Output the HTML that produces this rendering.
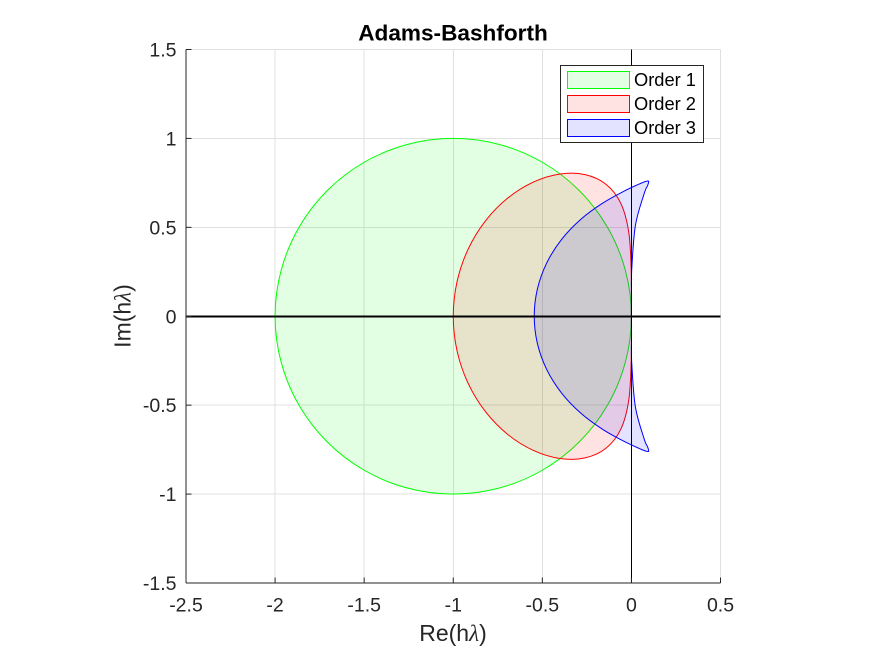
<!DOCTYPE html>
<html lang="en">
<head>
<meta charset="utf-8">
<title>Adams-Bashforth</title>
<style>
html,body{margin:0;padding:0;background:#fff;}
svg{display:block;font-family:"Liberation Sans",sans-serif;}
</style>
</head>
<body>
<svg id="chart" width="875" height="656" viewBox="0 0 875 656" xmlns="http://www.w3.org/2000/svg">
<rect width="875" height="656" fill="#ffffff"/>
<g id="grid" shape-rendering="crispEdges"></g>
<g id="regions"></g>
<g id="refs" shape-rendering="crispEdges"></g>
<g id="axes"></g>
<text x="453" y="40.5" text-anchor="middle" font-size="22.6" font-weight="bold" fill="#000">Adams-Bashforth</text>
<text x="453" y="641" text-anchor="middle" font-size="23" fill="#262626">Re(h<tspan font-family="'Liberation Serif',serif" font-style="italic">λ</tspan>)</text>
<text transform="translate(130.5,316) rotate(-90)" text-anchor="middle" font-size="23" fill="#262626">Im(h<tspan font-family="'Liberation Serif',serif" font-style="italic">λ</tspan>)</text>
<g>
  <rect x="560.5" y="65.5" width="143" height="77" fill="#ffffff" stroke="#262626" stroke-width="1"/>
  <g>
    <rect x="567.5" y="71.5" width="62" height="17" fill="#e3ffe3" stroke="#00ff00" stroke-width="1"/>
    <text x="634" y="86" font-size="18.3" fill="#000">Order 1</text>
  </g>
  <g>
    <rect x="567.5" y="95.5" width="62" height="17" fill="#ffe3e3" stroke="#ff0000" stroke-width="1"/>
    <text x="634" y="110" font-size="18.3" fill="#000">Order 2</text>
  </g>
  <g>
    <rect x="567.5" y="119.5" width="62" height="17" fill="#e3e3ff" stroke="#0000ff" stroke-width="1"/>
    <text x="634" y="134" font-size="18.3" fill="#000">Order 3</text>
  </g>
</g>
</svg>
<script>
const xTicks = [-2.5, -2, -1.5, -1, -0.5, 0, 0.5];
const xTickLabels = ['-2.5', '-2', '-1.5', '-1', '-0.5', '0', '0.5'];
const yTicks = [-1.5, -1, -0.5, 0, 0.5, 1, 1.5];
const yTickLabels = ['-1.5', '-1', '-0.5', '0', '0.5', '1', '1.5'];

const order1Re = [0, -0.0341, -0.134, -0.2929, -0.5, -0.7412, -1, -1.2588, -1.5, -1.7071, -1.866, -1.9659, -2, -1.9659, -1.866, -1.7071, -1.5, -1.2588, -1, -0.7412, -0.5, -0.2929, -0.134, -0.0341];
const order1Im = [0, 0.2588, 0.5, 0.7071, 0.866, 0.9659, 1, 0.9659, 0.866, 0.7071, 0.5, 0.2588, 0, -0.2588, -0.5, -0.7071, -0.866, -0.9659, -1, -0.9659, -0.866, -0.7071, -0.5, -0.2588];

const order2Re = [0, -0.0011, -0.0149, -0.0596, -0.1429, -0.2601, -0.4, -0.5487, -0.6923, -0.8184, -0.9166, -0.9787, -1, -0.9787, -0.9166, -0.8184, -0.6923, -0.5487, -0.4, -0.2601, -0.1429, -0.0596, -0.0149, -0.0011];
const order2Im = [0, 0.2546, 0.4721, 0.6352, 0.7423, 0.7964, 0.8, 0.7554, 0.6662, 0.5376, 0.3772, 0.1944, 0, -0.1944, -0.3772, -0.5376, -0.6662, -0.7554, -0.8, -0.7964, -0.7423, -0.6352, -0.4721, -0.2546];

const order3Re = [0, 0.0002, 0.0017, 0.0221, 0.0709, 0.0912, 0.0972, 0.0945, 0.0849, 0.0553, -0.0414, -0.1619, -0.2835, -0.391, -0.4746, -0.5274, -0.5455, -0.5274, -0.4746, -0.391, -0.2835, -0.1619, -0.0414, 0.0553, 0.0849, 0.0945, 0.0972, 0.0912, 0.0709, 0.0221, 0.0017, 0.0002];
const order3Im = [0, 0.1309, 0.2613, 0.5083, 0.6878, 0.7358, 0.7573, 0.7601, 0.7595, 0.7485, 0.7034, 0.6356, 0.5455, 0.4332, 0.3012, 0.1545, 0, -0.1545, -0.3012, -0.4332, -0.5455, -0.6356, -0.7034, -0.7485, -0.7595, -0.7601, -0.7573, -0.7358, -0.6878, -0.5083, -0.2613, -0.1309];

const plotLeft = 186, plotRight = 720.5, plotTop = 49.5, plotBottom = 583;
const xMin = -2.5, xMax = 0.5, yMin = -1.5, yMax = 1.5;
const NS = 'http://www.w3.org/2000/svg';

function xScale(v) { return plotLeft + (v - xMin) / (xMax - xMin) * (plotRight - plotLeft); }
function yScale(v) { return plotBottom - (v - yMin) / (yMax - yMin) * (plotBottom - plotTop); }

function make(parent, tag, attrs) {
  const el = document.createElementNS(NS, tag);
  for (const k in attrs) el.setAttribute(k, attrs[k]);
  parent.appendChild(el);
  return el;
}

function closedCurve(re, im) {
  const n = re.length;
  const px = re.map(xScale);
  const py = im.map(yScale);
  let d = 'M' + px[0].toFixed(2) + ' ' + py[0].toFixed(2);
  for (let i = 0; i < n; i++) {
    const a = (i - 1 + n) % n, b = i, c = (i + 1) % n, e = (i + 2) % n;
    const c1x = px[b] + (px[c] - px[a]) / 6, c1y = py[b] + (py[c] - py[a]) / 6;
    const c2x = px[c] - (px[e] - px[b]) / 6, c2y = py[c] - (py[e] - py[b]) / 6;
    d += 'C' + c1x.toFixed(2) + ' ' + c1y.toFixed(2) + ' ' + c2x.toFixed(2) + ' ' + c2y.toFixed(2) + ' ' + px[c].toFixed(2) + ' ' + py[c].toFixed(2);
  }
  return d + 'Z';
}

const gridG = document.getElementById('grid');
const axesG = document.getElementById('axes');
const regionsG = document.getElementById('regions');
const refsG = document.getElementById('refs');

xTicks.forEach(function (t, i) {
  const x = xScale(t);
  const g = make(gridG, 'line', { x1: x, x2: x, y1: plotTop, y2: plotBottom, stroke: '#e0e0e0', 'stroke-width': 1 });
  
  
  const tick = make(axesG, 'line', { x1: x, x2: x, y1: plotBottom, y2: plotBottom - 5.5, stroke: '#262626', 'stroke-width': 1 });
  
  
  const label = make(axesG, 'text', { x: x, y: 611.5, 'text-anchor': 'middle', 'font-size': 19.5, fill: '#262626' });
  
  
  label.textContent = xTickLabels[i];
});

yTicks.forEach(function (t, i) {
  const y = yScale(t);
  const g = make(gridG, 'line', { x1: plotLeft, x2: plotRight, y1: y, y2: y, stroke: '#e0e0e0', 'stroke-width': 1 });
  
  
  const tick = make(axesG, 'line', { x1: plotLeft, x2: plotLeft + 5.5, y1: y, y2: y, stroke: '#262626', 'stroke-width': 1 });
  
  
  const label = make(axesG, 'text', { x: 176.5, y: y + 7, 'text-anchor': 'end', 'font-size': 19.5, fill: '#262626' });
  
  
  label.textContent = yTickLabels[i];
});

const region1 = make(regionsG, 'path', { d: closedCurve(order1Re, order1Im), fill: '#00ff00', 'fill-opacity': 0.11, stroke: '#00ff00', 'stroke-width': 1, 'stroke-linejoin': 'round' });


const region2 = make(regionsG, 'path', { d: closedCurve(order2Re, order2Im), fill: '#ff0000', 'fill-opacity': 0.11, stroke: '#ff0000', 'stroke-width': 1, 'stroke-linejoin': 'round' });


const region3 = make(regionsG, 'path', { d: closedCurve(order3Re, order3Im), fill: '#0000ff', 'fill-opacity': 0.11, stroke: '#0000ff', 'stroke-width': 1, 'stroke-linejoin': 'round' });



const zeroH = make(refsG, 'line', { x1: plotLeft, x2: plotRight, y1: yScale(0), y2: yScale(0), stroke: '#000', 'stroke-width': 2 });


const zeroV = make(refsG, 'line', { x1: xScale(0), x2: xScale(0), y1: plotTop, y2: plotBottom, stroke: '#000', 'stroke-width': 1 });



const xAxis = make(axesG, 'line', { x1: plotLeft, x2: plotRight, y1: plotBottom, y2: plotBottom, stroke: '#262626', 'stroke-width': 1 });


const yAxis = make(axesG, 'line', { x1: plotLeft, x2: plotLeft, y1: plotTop, y2: plotBottom, stroke: '#262626', 'stroke-width': 1 });


</script>
</body>
</html>
